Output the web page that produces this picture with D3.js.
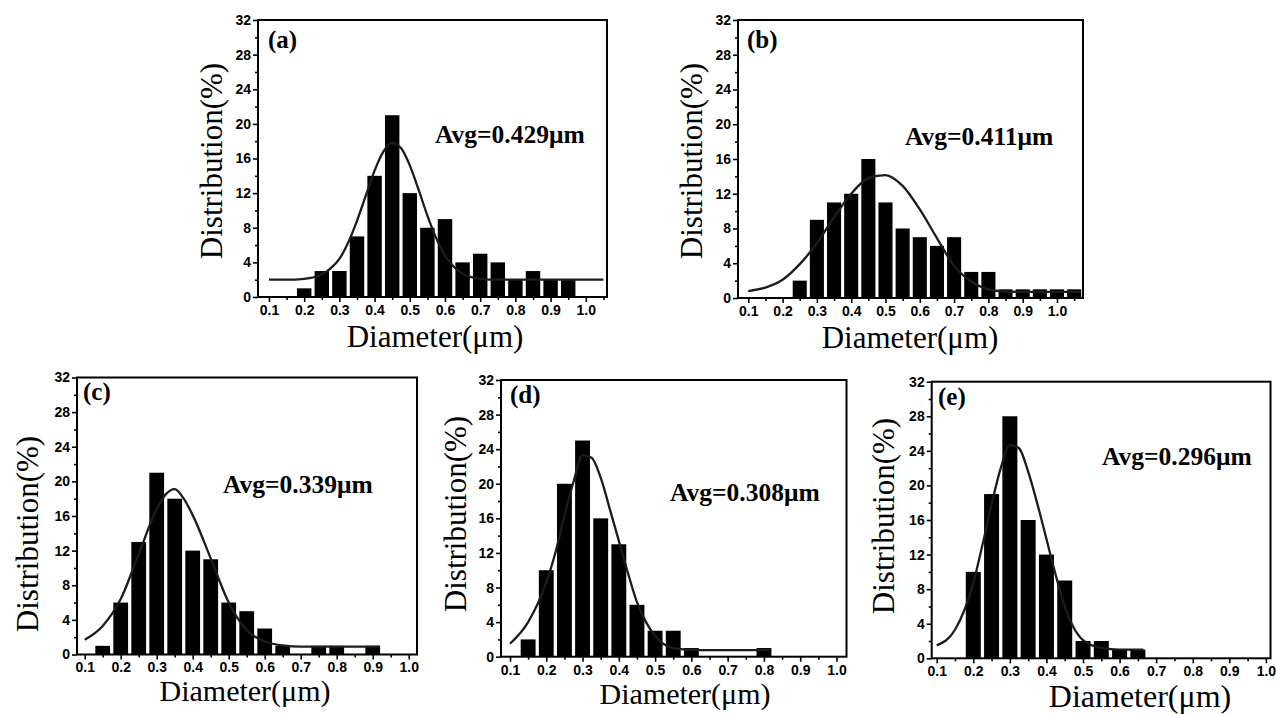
<!DOCTYPE html>
<html>
<head>
<meta charset="utf-8">
<script src="https://cdn.jsdelivr.net/npm/d3@7"></script>
<style>
  html, body { margin: 0; padding: 0; background: #fff; }
  svg { display: block; }
</style>
</head>
<body>
<svg id="chart" width="1276" height="714"></svg>
<script>
// ---------------- DATA ----------------
const panelIds = ["(a)", "(b)", "(c)", "(d)", "(e)"];
const avgLabels = ["Avg=0.429\u03bcm", "Avg=0.411\u03bcm", "Avg=0.339\u03bcm", "Avg=0.308\u03bcm", "Avg=0.296\u03bcm"];
const xTitle = "Diameter(\u03bcm)";
const yTitle = "Distribution(%)";

const xTickValues = [0.1, 0.2, 0.3, 0.4, 0.5, 0.6, 0.7, 0.8, 0.9, 1.0];
const xTickLabels = ["0.1", "0.2", "0.3", "0.4", "0.5", "0.6", "0.7", "0.8", "0.9", "1.0"];
const xMinorTicks = [0.15, 0.25, 0.35, 0.45, 0.55, 0.65, 0.75, 0.85, 0.95, 1.05];
const yTickValues = [0, 4, 8, 12, 16, 20, 24, 28, 32];
const yTickLabels = ["0", "4", "8", "12", "16", "20", "24", "28", "32"];
const yMinorTicks = [2, 6, 10, 14, 18, 22, 26, 30];

// histogram bins (centres, um) and distribution (%)
const binsA = [0.2, 0.25, 0.3, 0.35, 0.4, 0.45, 0.5, 0.55, 0.6, 0.65, 0.7, 0.75, 0.8, 0.85, 0.9, 0.95];
const valsA = [1, 3, 3, 7, 14, 21, 12, 8, 9, 4, 5, 4, 2, 3, 2, 2];
const binsB = [0.25, 0.3, 0.35, 0.4, 0.45, 0.5, 0.55, 0.6, 0.65, 0.7, 0.75, 0.8, 0.85, 0.9, 0.95, 1.0, 1.05];
const valsB = [2, 9, 11, 12, 16, 11, 8, 7, 6, 7, 3, 3, 1, 1, 1, 1, 1];
const binsC = [0.15, 0.2, 0.25, 0.3, 0.35, 0.4, 0.45, 0.5, 0.55, 0.6, 0.65, 0.7, 0.75, 0.8, 0.85, 0.9];
const valsC = [1, 6, 13, 21, 18, 12, 11, 6, 5, 3, 1, 0, 1, 1, 0, 1];
const binsD = [0.15, 0.2, 0.25, 0.3, 0.35, 0.4, 0.45, 0.5, 0.55, 0.6, 0.65, 0.7, 0.75, 0.8];
const valsD = [2, 10, 20, 25, 16, 13, 6, 3, 3, 1, 0, 0, 0, 1];
const binsE = [0.2, 0.25, 0.3, 0.35, 0.4, 0.45, 0.5, 0.55, 0.6, 0.65];
const valsE = [10, 19, 28, 16, 12, 9, 2, 2, 1, 1];

// fitted curves, points
const fitXA = [0.1, 0.15, 0.2, 0.25, 0.275, 0.3, 0.325, 0.35, 0.375, 0.4, 0.425, 0.45, 0.475, 0.5, 0.525, 0.55, 0.575, 0.6, 0.625, 0.65, 0.675, 0.7, 0.75, 0.8, 0.85, 0.9, 0.95, 1.0, 1.05];
const fitYA = [2.0, 2.0, 2.1, 2.6, 3.3, 4.4, 6.3, 8.8, 11.7, 14.6, 16.8, 17.8, 17.2, 15.2, 12.4, 9.4, 6.8, 4.8, 3.5, 2.7, 2.3, 2.1, 2.0, 2.0, 2.0, 2.0, 2.0, 2.0, 2.0];
const fitXB = [0.1, 0.15, 0.2, 0.25, 0.3, 0.35, 0.4, 0.45, 0.5, 0.55, 0.6, 0.65, 0.7, 0.75, 0.8, 0.85, 0.9, 0.95, 1.0, 1.05, 1.07];
const fitYB = [0.8, 1.2, 2.1, 3.9, 6.3, 9.3, 12.0, 13.8, 14.15, 12.9, 10.2, 6.9, 3.7, 1.9, 1.0, 0.75, 0.7, 0.7, 0.7, 0.7, 0.7];
const fitXC = [0.1, 0.15, 0.2, 0.25, 0.3, 0.325, 0.35, 0.375, 0.4, 0.45, 0.5, 0.55, 0.6, 0.65, 0.7, 0.75, 0.8, 0.85, 0.92];
const fitYC = [1.7, 3.3, 6.4, 11.6, 16.8, 18.5, 19.1, 18.0, 16.1, 11.1, 6.0, 2.8, 1.5, 1.05, 0.9, 0.9, 0.9, 0.9, 0.9];
const fitXD = [0.1, 0.15, 0.2, 0.225, 0.25, 0.275, 0.3, 0.325, 0.35, 0.375, 0.4, 0.425, 0.45, 0.475, 0.5, 0.55, 0.6, 0.65, 0.7, 0.75, 0.82];
const fitYD = [1.5, 4.0, 8.6, 12.0, 16.3, 20.2, 23.3, 23.0, 20.7, 17.1, 13.4, 9.7, 6.3, 4.0, 2.4, 1.0, 0.8, 0.75, 0.75, 0.75, 0.75];
const fitXE = [0.1, 0.15, 0.2, 0.225, 0.25, 0.275, 0.3, 0.325, 0.35, 0.375, 0.4, 0.425, 0.45, 0.475, 0.5, 0.55, 0.6, 0.665];
const fitYE = [1.5, 3.3, 8.7, 13.1, 17.8, 22.0, 24.7, 24.3, 21.6, 17.9, 13.8, 9.7, 6.0, 3.5, 2.1, 1.2, 1.0, 1.0];

const binWidth = 0.05;

// ---------------- LAYOUT ----------------
const layout = [
  {left: 258, right: 607, top: 20, bottom: 297, x0: 0.0688, x1: 1.0602,
   id: [268, 48], avg: [435, 143], yLab: [222, 161], xLab: [435, 347], xLabSize: 31},
  {left: 738, right: 1083, top: 20, bottom: 298, x0: 0.070, x1: 1.0758,
   id: [747, 48], avg: [905, 145], yLab: [702, 161], xLab: [910, 348], xLabSize: 31},
  {left: 77, right: 417, top: 377.5, bottom: 654.5, x0: 0.0786, x1: 1.023,
   id: [83, 400], avg: [223, 493], yLab: [38, 534], xLab: [245, 701], xLabSize: 30},
  {left: 501, right: 846.5, top: 380, bottom: 656.7, x0: 0.0752, x1: 1.0276,
   id: [510, 403], avg: [670, 501], yLab: [466, 514], xLab: [685, 704], xLabSize: 30},
  {left: 931.7, right: 1270.5, top: 381.7, bottom: 658.3, x0: 0.0863, x1: 1.0126,
   id: [938, 405], avg: [1102, 465], yLab: [894, 516], xLab: [1140, 707], xLabSize: 32}
];

const bins = [binsA, binsB, binsC, binsD, binsE];
const vals = [valsA, valsB, valsC, valsD, valsE];
const fitX = [fitXA, fitXB, fitXC, fitXD, fitXE];
const fitY = [fitYA, fitYB, fitYC, fitYD, fitYE];

const svg = d3.select("#chart");
const serif = "'Liberation Serif', 'Times New Roman', serif";
const sans = "'Liberation Sans', Arial, sans-serif";

layout.forEach((L, i) => {
  const x = d3.scaleLinear().domain([L.x0, L.x1]).range([L.left, L.right]);
  const y = d3.scaleLinear().domain([0, 32]).range([L.bottom, L.top]);
  const g = svg.append("g");

  // bars
  const barData = bins[i].map((b, k) => ({b, v: vals[i][k]})).filter(d => d.v > 0);
  const gap = 0.0045;
  g.selectAll("rect.bar").data(barData).enter().append("rect")
    .attr("class", "bar")
    .attr("x", d => x(d.b - binWidth / 2 + gap))
    .attr("width", d => x(d.b + binWidth / 2 - gap) - x(d.b - binWidth / 2 + gap))
    .attr("y", d => y(d.v))
    .attr("height", d => y(0) - y(d.v))
    .attr("fill", "#000");

  // fitted curve
  const pts = fitX[i].map((fx, k) => [fx, fitY[i][k]]);
  g.append("path")
    .datum(pts)
    .attr("fill", "none")
    .attr("stroke", "#1c1c1c")
    .attr("stroke-width", 2.3)
    .attr("d", d3.line().x(d => x(d[0])).y(d => y(d[1])).curve(d3.curveMonotoneX));

  // axes
  const xAxis = d3.axisBottom(x).tickValues(xTickValues)
    .tickFormat((d, k) => xTickLabels[k]).tickSize(5).tickSizeOuter(0);
  const xAxisMinor = d3.axisBottom(x).tickValues(xMinorTicks.filter(v => v < L.x1))
    .tickFormat("").tickSize(3).tickSizeOuter(0);
  const yAxis = d3.axisLeft(y).tickValues(yTickValues)
    .tickFormat((d, k) => yTickLabels[k]).tickSize(5).tickSizeOuter(0);
  const yAxisMinor = d3.axisLeft(y).tickValues(yMinorTicks)
    .tickFormat("").tickSize(3).tickSizeOuter(0);

  const gx = g.append("g").attr("transform", `translate(0,${L.bottom})`).call(xAxis);
  const gxm = g.append("g").attr("transform", `translate(0,${L.bottom})`).call(xAxisMinor);
  const gy = g.append("g").attr("transform", `translate(${L.left},0)`).call(yAxis);
  const gym = g.append("g").attr("transform", `translate(${L.left},0)`).call(yAxisMinor);
  [gx, gxm, gy, gym].forEach(a => {
    a.select(".domain").remove();
    a.selectAll(".tick line").attr("stroke", "#000").attr("stroke-width", 1.6);
  });
  gx.selectAll(".tick text")
    .attr("font-family", sans).attr("font-weight", "bold").attr("font-size", 14)
    .attr("fill", "#000").attr("y", 8);
  gy.selectAll(".tick text")
    .attr("font-family", sans).attr("font-weight", "bold").attr("font-size", 14)
    .attr("fill", "#000").attr("x", -7);

  // frame
  g.append("rect")
    .attr("x", L.left).attr("y", L.top)
    .attr("width", L.right - L.left).attr("height", L.bottom - L.top)
    .attr("fill", "none").attr("stroke", "#000").attr("stroke-width", 2);

  // panel id
  g.append("text").attr("x", L.id[0]).attr("y", L.id[1])
    .attr("font-family", serif).attr("font-weight", "bold").attr("font-size", 25)
    .text(panelIds[i]);

  // average annotation
  g.append("text").attr("x", L.avg[0]).attr("y", L.avg[1])
    .attr("font-family", serif).attr("font-weight", "bold").attr("font-size", 25.5)
    .text(avgLabels[i]);

  // axis titles
  g.append("text")
    .attr("transform", `translate(${L.yLab[0]},${L.yLab[1]}) rotate(-90)`)
    .attr("text-anchor", "middle")
    .attr("font-family", serif).attr("font-size", 31)
    .text(yTitle);
  g.append("text")
    .attr("x", L.xLab[0]).attr("y", L.xLab[1])
    .attr("text-anchor", "middle")
    .attr("font-family", serif).attr("font-size", L.xLabSize)
    .text(xTitle);
});
</script>
</body>
</html>
